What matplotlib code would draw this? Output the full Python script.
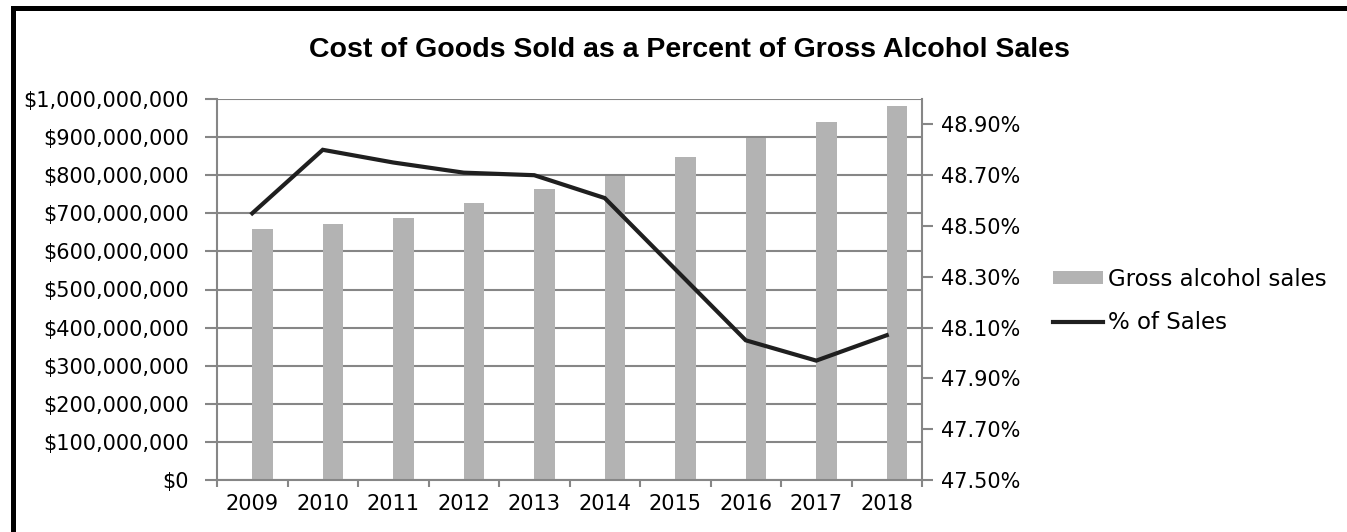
import matplotlib
matplotlib.use("Agg")
import matplotlib.pyplot as plt
from matplotlib.patches import Rectangle
from matplotlib.ticker import FuncFormatter, FixedLocator
import numpy as np

years = ["2009", "2010", "2011", "2012", "2013", "2014", "2015", "2016", "2017", "2018"]
gross_sales = [659e6, 673e6, 687e6, 728e6, 763e6, 798e6, 847e6, 897e6, 939e6, 982e6]
pct_of_sales = [48.55, 48.80, 48.75, 48.71, 48.70, 48.61, 48.33, 48.05, 47.97, 48.07]

W, H, DPI = 1347, 532, 100
grid_col = "#868686"
bar_col = "#b3b3b3"
line_col = "#1f1f1f"

plt.rcParams["font.family"] = ["DejaVu Sans"]

fig = plt.figure(figsize=(W / DPI, H / DPI), dpi=DPI)
fig.patch.set_facecolor("white")

# plot area in pixel terms
left, right, top, bottom = 217, 922, 99, 480
ax = fig.add_axes([left / W, 1 - bottom / H, (right - left) / W, (bottom - top) / H])

x = np.arange(len(years))
ax.bar(x, gross_sales, width=0.29, align="edge", color=bar_col, zorder=2,
       label="Gross alcohol sales")
ax.set_xlim(-0.5, len(years) - 0.5)
ax.set_ylim(0, 1e9)
ax.set_yticks(np.arange(0, 1.01e9, 1e8))
ax.yaxis.set_major_formatter(FuncFormatter(lambda v, p: "${:,.0f}".format(v)))
ax.set_axisbelow(True)
ax.yaxis.grid(True, color=grid_col, linewidth=1.5, zorder=0)

# category labels centred, tick marks on the boundaries
ax.set_xticks(x)
ax.set_xticklabels(years)
ax.xaxis.set_minor_locator(FixedLocator(np.arange(-0.5, len(years), 1.0)))
ax.tick_params(axis="x", which="major", length=0, pad=10, labelsize=15)
ax.tick_params(axis="x", which="minor", length=5, width=1.5, color=grid_col)
ax.tick_params(axis="y", length=9, width=1.5, color=grid_col, pad=11, labelsize=15)

for side in ["top", "right"]:
    ax.spines[side].set_visible(False)
for side in ["left", "bottom"]:
    ax.spines[side].set_color(grid_col)
    ax.spines[side].set_linewidth(1.5)

ax2 = ax.twinx()
ax2.plot(x, pct_of_sales, color=line_col, linewidth=3, zorder=3,
         solid_joinstyle="miter", label="% of Sales")
ax2.set_ylim(47.5, 49.0)
ax2.set_yticks(np.arange(47.5, 48.95, 0.2))
ax2.yaxis.set_major_formatter(FuncFormatter(lambda v, p: "{:.2f}%".format(v)))
ax2.tick_params(axis="y", length=8, width=1.5, color=grid_col, pad=6, labelsize=15)
for side in ["top", "left", "bottom"]:
    ax2.spines[side].set_visible(False)
ax2.spines["right"].set_color(grid_col)
ax2.spines["right"].set_linewidth(1.5)

fig.text(689 / W, 1 - 57 / H, "Cost of Goods Sold as a Percent of Gross Alcohol Sales",
         ha="center", va="baseline", fontsize=20.5, fontweight="bold",
         family=["Liberation Sans"])

h1, l1 = ax.get_legend_handles_labels()
h2, l2 = ax2.get_legend_handles_labels()
fig.legend(h1 + h2, l1 + l2, loc="center left",
           bbox_to_anchor=(1053 / W, 1 - 301 / H), frameon=False, fontsize=16.5,
           handlelength=2.2, handleheight=0.45, handletextpad=0.2,
           labelspacing=0.9, borderpad=0, borderaxespad=0)

# black frame showing on the top and left edges
fig.add_artist(Rectangle((12.5 / W, -0.5), 2.0, (H - 7.5) / H + 0.5,
                         transform=fig.transFigure, fill=False,
                         edgecolor="black", linewidth=3.6))

fig.savefig("out.png", dpi=DPI, facecolor="white")
